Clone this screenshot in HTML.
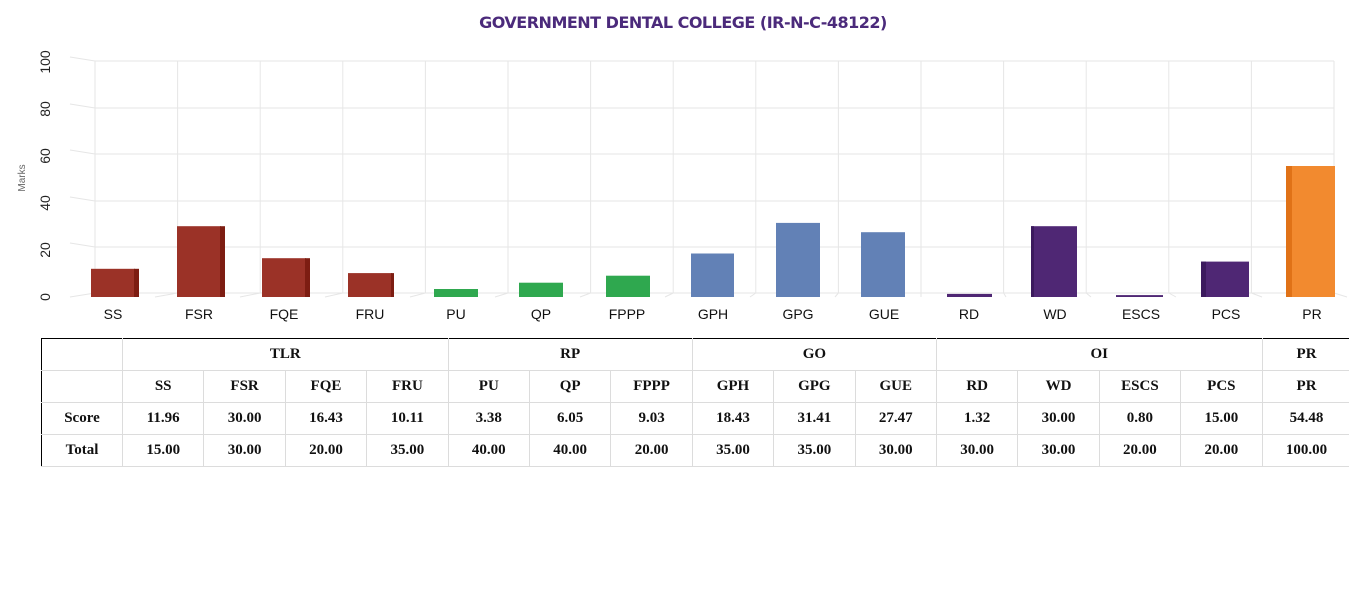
<!DOCTYPE html>
<html><head><meta charset="utf-8"><style>
body{margin:0;width:1349px;height:600px;background:#fff;overflow:hidden;position:relative;font-family:"Liberation Sans",sans-serif}
.title{position:absolute;top:13px;left:0;width:1366px;text-align:center;font:bold 16px "DejaVu Sans","Liberation Sans",sans-serif;color:#4b2a7b;letter-spacing:-0.5px}
table{position:absolute;left:41px;top:338px;width:1310px;border-collapse:collapse;table-layout:fixed;font:bold 15px "Liberation Serif","DejaVu Serif",serif;color:#111}
td{border:1px solid #dcdcdc;height:31px;padding:0;text-align:center}
tr:first-child td{border-top:1px solid #000}
td:first-child{border-left:1px solid #000}
</style></head><body>
<div class="title">GOVERNMENT DENTAL COLLEGE (IR-N-C-48122)</div>
<svg width="1349" height="336" style="position:absolute;left:0;top:0" font-family="Liberation Sans, sans-serif">
<g stroke="#e6e6e6" stroke-width="1" fill="none">
<line x1="95" y1="61" x2="1334" y2="61"/><line x1="95" y1="108" x2="1334" y2="108"/><line x1="95" y1="154" x2="1334" y2="154"/><line x1="95" y1="201" x2="1334" y2="201"/><line x1="95" y1="247" x2="1334" y2="247"/><line x1="95" y1="293" x2="1334" y2="293"/>
<line x1="70" y1="57" x2="95" y2="61"/><line x1="70" y1="104" x2="95" y2="108"/><line x1="70" y1="150" x2="95" y2="154"/><line x1="70" y1="197" x2="95" y2="201"/><line x1="70" y1="243" x2="95" y2="247"/><line x1="70" y1="297" x2="95" y2="293"/>
<path d="M95 61V293M177.6 61V293M260.2 61V293M342.8 61V293M425.4 61V293M508 61V293M590.6 61V293M673.2 61V293M755.8 61V293M838.4 61V293M921 61V293M1003.6 61V293M1086.2 61V293M1168.8 61V293M1251.4 61V293M1334 61V293"/>
<path d="M155 297L177.6 293M240 297L260.2 293M325 297L342.8 293M410 297L425.4 293M495 297L508 293M580 297L590.6 293M665 297L673.2 293M750 297L755.8 293M835 297L838.4 293M921 297L921 293M1006 297L1003.6 293M1091 297L1086.2 293M1176 297L1168.8 293M1262 297L1251.4 293M1347 297L1334 293"/>
</g>
<g font-size="14" fill="#222" text-anchor="middle">
<text transform="translate(50,297) rotate(-90)">0</text>
<text transform="translate(50,250) rotate(-90)">20</text>
<text transform="translate(50,203) rotate(-90)">40</text>
<text transform="translate(50,156) rotate(-90)">60</text>
<text transform="translate(50,109) rotate(-90)">80</text>
<text transform="translate(50,62) rotate(-90)">100</text>
</g>
<text transform="translate(25,178) rotate(-90)" font-size="10" fill="#666" text-anchor="middle">Marks</text>
<g>
<rect x="91" y="268.8" width="44" height="28.2" fill="#9b3227"/><rect x="134" y="268.8" width="5" height="28.2" fill="#7d1d12"/>
<rect x="177" y="226.2" width="44" height="70.8" fill="#9b3227"/><rect x="220" y="226.2" width="5" height="70.8" fill="#7d1d12"/>
<rect x="262" y="258.2" width="44" height="38.8" fill="#9b3227"/><rect x="305" y="258.2" width="5" height="38.8" fill="#7d1d12"/>
<rect x="348" y="273.1" width="44" height="23.9" fill="#9b3227"/><rect x="391" y="273.1" width="3" height="23.9" fill="#7d1d12"/>
<rect x="434" y="289" width="44" height="8" fill="#2fa84f"/>
<rect x="519" y="282.7" width="44" height="14.3" fill="#2fa84f"/>
<rect x="606" y="275.7" width="44" height="21.3" fill="#2fa84f"/>
<rect x="691" y="253.5" width="43" height="43.5" fill="#6281b6"/>
<rect x="776" y="222.9" width="44" height="74.1" fill="#6281b6"/>
<rect x="861" y="232.2" width="44" height="64.8" fill="#6281b6"/>
<rect x="947" y="293.9" width="45" height="3.1" fill="#4f2774"/>
<rect x="1031" y="226.2" width="46" height="70.8" fill="#4f2774"/><rect x="1031" y="226.2" width="3" height="70.8" fill="#3c1a5e"/>
<rect x="1116" y="295.1" width="47" height="1.9" fill="#4f2774"/>
<rect x="1201" y="261.6" width="48" height="35.4" fill="#4f2774"/><rect x="1201" y="261.6" width="5" height="35.4" fill="#3c1a5e"/>
<rect x="1286" y="166" width="49" height="131" fill="#f28a2f"/><rect x="1286" y="166" width="6" height="131" fill="#e07217"/>
</g>
<g font-size="14" fill="#111" text-anchor="middle">
<text x="113" y="319">SS</text><text x="199" y="319">FSR</text><text x="284" y="319">FQE</text><text x="370" y="319">FRU</text><text x="456" y="319">PU</text><text x="541" y="319">QP</text><text x="627" y="319">FPPP</text><text x="713" y="319">GPH</text><text x="798" y="319">GPG</text><text x="884" y="319">GUE</text><text x="969" y="319">RD</text><text x="1055" y="319">WD</text><text x="1141" y="319">ESCS</text><text x="1226" y="319">PCS</text><text x="1312" y="319">PR</text>
</g>
</svg>
<table>
<colgroup><col style="width:81px"><col span="14" style="width:81.4px"><col style="width:89px"></colgroup>
<tr><td></td><td colspan="4">TLR</td><td colspan="3">RP</td><td colspan="3">GO</td><td colspan="4">OI</td><td>PR</td></tr>
<tr><td></td><td>SS</td><td>FSR</td><td>FQE</td><td>FRU</td><td>PU</td><td>QP</td><td>FPPP</td><td>GPH</td><td>GPG</td><td>GUE</td><td>RD</td><td>WD</td><td>ESCS</td><td>PCS</td><td>PR</td></tr>
<tr><td>Score</td><td>11.96</td><td>30.00</td><td>16.43</td><td>10.11</td><td>3.38</td><td>6.05</td><td>9.03</td><td>18.43</td><td>31.41</td><td>27.47</td><td>1.32</td><td>30.00</td><td>0.80</td><td>15.00</td><td>54.48</td></tr>
<tr><td>Total</td><td>15.00</td><td>30.00</td><td>20.00</td><td>35.00</td><td>40.00</td><td>40.00</td><td>20.00</td><td>35.00</td><td>35.00</td><td>30.00</td><td>30.00</td><td>30.00</td><td>20.00</td><td>20.00</td><td>100.00</td></tr>
</table>
</body></html>
